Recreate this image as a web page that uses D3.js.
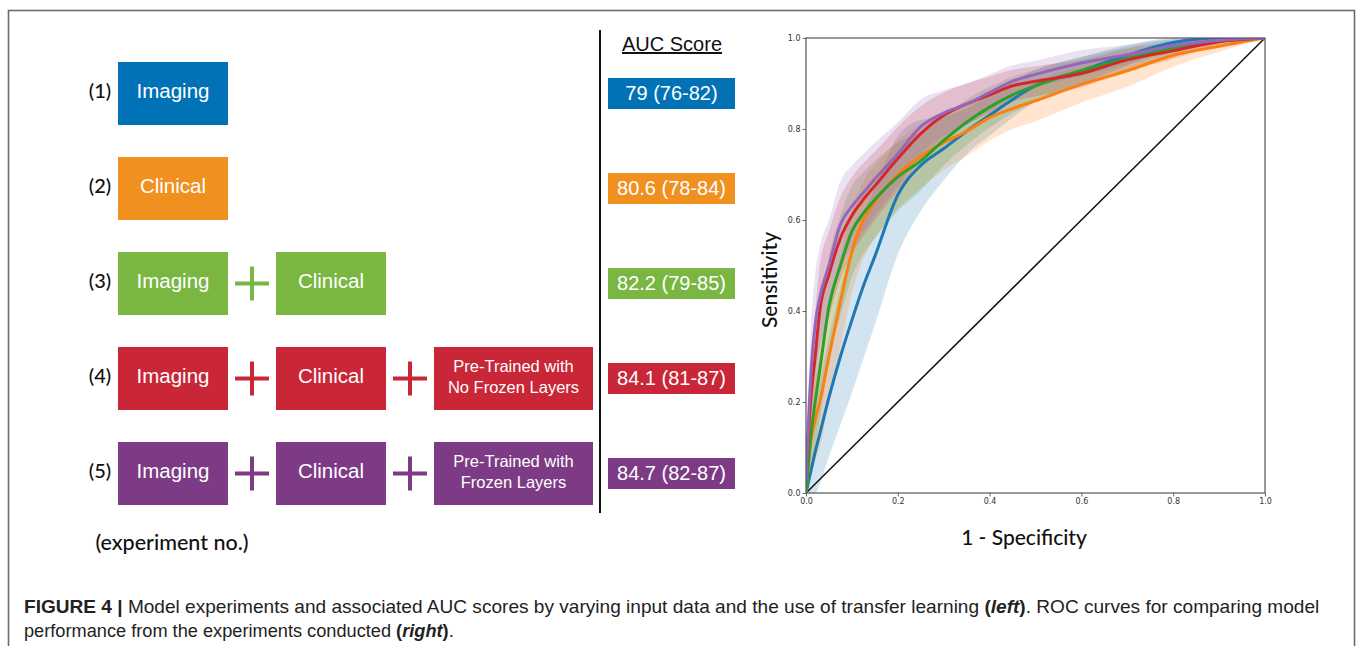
<!DOCTYPE html>
<html>
<head>
<meta charset="utf-8">
<script src="https://cdn.jsdelivr.net/npm/d3@7"></script>
<style>
  html, body { margin: 0; padding: 0; background: #fff; }
  svg { display: block; }
</style>
</head>
<body>
<svg id="fig" width="1360" height="646"></svg>
<script>
// ---- experiments (left panel) ----
const experimentLabels = ["(1)", "(2)", "(3)", "(4)", "(5)"];
const experimentInputs = [
  ["Imaging"],
  ["Clinical"],
  ["Imaging", "Clinical"],
  ["Imaging", "Clinical", "Pre-Trained with\nNo Frozen Layers"],
  ["Imaging", "Clinical", "Pre-Trained with\nFrozen Layers"]
];
const aucLabels = ["79 (76-82)", "80.6 (78-84)", "82.2 (79-85)", "84.1 (81-87)", "84.7 (82-87)"];

// ---- ROC curves (right panel): mean TPR and spread at each FPR ----
const fprGrid = [0, 0.01, 0.02, 0.03, 0.05, 0.075, 0.1, 0.125, 0.15, 0.2, 0.25, 0.3, 0.35, 0.4, 0.45, 0.5, 0.6, 0.7, 0.8, 0.9, 1.0];

const tprImaging   = [0, 0.045, 0.09, 0.13, 0.21, 0.30, 0.38, 0.455, 0.52, 0.655, 0.72, 0.757, 0.795, 0.83, 0.865, 0.895, 0.928, 0.962, 0.99, 1.0, 1.0];
const sdImaging    = [0, 0.06, 0.09, 0.11, 0.13, 0.15, 0.16, 0.16, 0.15, 0.13, 0.10, 0.07, 0.05, 0.045, 0.04, 0.035, 0.03, 0.022, 0.012, 0.005, 0];

const tprClinical  = [0, 0.11, 0.16, 0.20, 0.30, 0.42, 0.53, 0.60, 0.64, 0.70, 0.74, 0.77, 0.795, 0.825, 0.845, 0.862, 0.898, 0.928, 0.962, 0.982, 1.0];
const sdClinical   = [0, 0.07, 0.09, 0.10, 0.10, 0.10, 0.09, 0.085, 0.08, 0.075, 0.07, 0.06, 0.055, 0.05, 0.045, 0.045, 0.04, 0.035, 0.025, 0.012, 0];

const tprCombined  = [0, 0.12, 0.20, 0.27, 0.41, 0.50, 0.575, 0.615, 0.645, 0.695, 0.73, 0.775, 0.815, 0.848, 0.875, 0.895, 0.928, 0.955, 0.978, 0.993, 1.0];
const sdCombined   = [0, 0.08, 0.10, 0.11, 0.11, 0.11, 0.10, 0.09, 0.085, 0.075, 0.065, 0.055, 0.05, 0.045, 0.04, 0.035, 0.03, 0.025, 0.018, 0.008, 0];

const tprNoFrozen  = [0.04, 0.20, 0.30, 0.40, 0.48, 0.56, 0.61, 0.645, 0.675, 0.735, 0.79, 0.83, 0.855, 0.875, 0.895, 0.905, 0.922, 0.952, 0.972, 0.992, 1.0];
const sdNoFrozen   = [0.02, 0.09, 0.10, 0.10, 0.095, 0.09, 0.085, 0.08, 0.075, 0.07, 0.06, 0.05, 0.045, 0.04, 0.035, 0.033, 0.03, 0.025, 0.018, 0.008, 0];

const tprFrozen    = [0.03, 0.25, 0.37, 0.43, 0.50, 0.59, 0.63, 0.66, 0.69, 0.745, 0.805, 0.835, 0.855, 0.88, 0.905, 0.92, 0.945, 0.963, 0.983, 0.995, 1.0];
const sdFrozen     = [0.02, 0.10, 0.11, 0.11, 0.10, 0.095, 0.09, 0.085, 0.08, 0.07, 0.06, 0.05, 0.045, 0.04, 0.035, 0.03, 0.028, 0.022, 0.015, 0.006, 0];

const axisTicks = [0, 0.2, 0.4, 0.6, 0.8, 1.0];

// ---- styles ----
const boxColors  = ["#0172b6", "#f0901f", "#7ab642", "#c92638", "#7d3b85"];
const lineColors = ["#1f77b4", "#ff7f0e", "#2ca02c", "#d62728", "#9467bd"];
const series = [
  { tpr: tprImaging,  sd: sdImaging },
  { tpr: tprClinical, sd: sdClinical },
  { tpr: tprCombined, sd: sdCombined },
  { tpr: tprNoFrozen, sd: sdNoFrozen },
  { tpr: tprFrozen,   sd: sdFrozen }
];

const svg = d3.select("#fig");
const SANS = "'Liberation Sans', Arial, sans-serif";
const HUMAN = "Lato, 'Open Sans', sans-serif";

// outer frame
svg.append("rect")
  .attr("x", 8.5).attr("y", 10.5).attr("width", 1346).attr("height", 660)
  .attr("fill", "none").attr("stroke", "#6b6b6b").attr("stroke-width", 1.6);

// ---------------- left panel ----------------
const rowY = d3.scalePoint().domain(d3.range(5)).range([93.5, 473.5]);
const boxH = 63;
const slotX = [118, 276, 434];
const slotW = [110, 110, 159];
const left = svg.append("g");

experimentInputs.forEach((parts, i) => {
  const cy = rowY(i);
  const row = left.append("g");
  row.append("text")
    .attr("x", 100).attr("y", cy + 4)
    .attr("text-anchor", "middle")
    .attr("font-family", HUMAN).attr("font-size", 20).attr("font-weight", 500).attr("fill", "#111")
    .text(experimentLabels[i]);

  parts.forEach((p, j) => {
    row.append("rect")
      .attr("x", slotX[j]).attr("y", cy - boxH / 2)
      .attr("width", slotW[j]).attr("height", boxH)
      .attr("fill", boxColors[i]);
    const lines = p.split("\n");
    if (lines.length === 1) {
      row.append("text")
        .attr("x", slotX[j] + slotW[j] / 2).attr("y", cy + 4.5)
        .attr("text-anchor", "middle")
        .attr("font-family", SANS).attr("font-size", 20.5).attr("fill", "#fff")
        .text(p);
    } else {
      lines.forEach((ln, k) => {
        row.append("text")
          .attr("x", slotX[j] + slotW[j] / 2).attr("y", cy - 7 + k * 21)
          .attr("text-anchor", "middle")
          .attr("font-family", SANS).attr("font-size", 16.5).attr("fill", "#fff")
          .text(ln);
      });
    }
    if (j > 0) {
      const px = (slotX[j - 1] + slotW[j - 1] + slotX[j]) / 2;
      row.append("path")
        .attr("d", `M${px - 17},${cy} H${px + 17} M${px},${cy - 17} V${cy + 17}`)
        .attr("stroke", boxColors[i]).attr("stroke-width", 4).attr("fill", "none");
    }
  });

  // AUC score box
  row.append("rect")
    .attr("x", 608).attr("y", cy - 15.5).attr("width", 127).attr("height", 31)
    .attr("fill", boxColors[i]);
  row.append("text")
    .attr("x", 671.5).attr("y", cy + 6)
    .attr("text-anchor", "middle")
    .attr("font-family", SANS).attr("font-size", 20).attr("fill", "#fff")
    .text(aucLabels[i]);
});

left.append("text")
  .attr("x", 672).attr("y", 51)
  .attr("text-anchor", "middle")
  .attr("font-family", SANS).attr("font-size", 20).attr("fill", "#111")
  .attr("text-decoration", "underline")
  .text("AUC Score");

left.append("line")
  .attr("x1", 600).attr("x2", 600).attr("y1", 30).attr("y2", 513)
  .attr("stroke", "#111").attr("stroke-width", 2);

left.append("text")
  .attr("x", 172).attr("y", 550)
  .attr("text-anchor", "middle")
  .attr("font-family", HUMAN).attr("font-size", 21.5).attr("font-weight", 500).attr("fill", "#111")
  .text("(experiment no.)");

// ---------------- ROC panel ----------------
const x = d3.scaleLinear().domain([0, 1]).range([806, 1265]);
const y = d3.scaleLinear().domain([0, 1]).range([493, 38]);
const roc = svg.append("g");

roc.append("clipPath").attr("id", "plotClip")
  .append("rect").attr("x", 806).attr("y", 38).attr("width", 459).attr("height", 455);

const plot = roc.append("g").attr("clip-path", "url(#plotClip)");

const area = d3.area()
  .x(d => x(d.f))
  .y0(d => y(Math.max(0, d.t - d.s)))
  .y1(d => y(Math.min(1, d.t + d.s)))
  .curve(d3.curveMonotoneX);
const line = d3.line()
  .x(d => x(d.f)).y(d => y(d.t))
  .curve(d3.curveMonotoneX);

const pts = series.map(s => fprGrid.map((f, k) => ({ f, t: s.tpr[k], s: s.sd[k] })));

pts.forEach((p, i) => {
  plot.append("path").attr("d", area(p))
    .attr("fill", lineColors[i]).attr("fill-opacity", 0.2).attr("stroke", "none");
});

plot.append("line")
  .attr("x1", x(0)).attr("y1", y(0)).attr("x2", x(1)).attr("y2", y(1))
  .attr("stroke", "#111").attr("stroke-width", 1.5);

pts.forEach((p, i) => {
  plot.append("path").attr("d", line(p))
    .attr("fill", "none").attr("stroke", lineColors[i]).attr("stroke-width", 3);
});

const xAxis = d3.axisBottom(x).tickValues(axisTicks).tickFormat(d3.format(".1f")).tickSize(3.5).tickPadding(2);
const yAxis = d3.axisLeft(y).tickValues(axisTicks).tickFormat(d3.format(".1f")).tickSize(3.5).tickPadding(2);

const gx = roc.append("g").attr("transform", "translate(0,493)").call(xAxis);
const gy = roc.append("g").attr("transform", "translate(806,0)").call(yAxis);
[gx, gy].forEach(g => {
  g.select(".domain").remove();
  g.selectAll("line").attr("stroke", "#444").attr("stroke-width", 0.8);
  g.selectAll("text").attr("font-family", "'DejaVu Sans', sans-serif").attr("font-size", 8).attr("fill", "#333");
});

roc.append("rect")
  .attr("x", 806).attr("y", 38).attr("width", 459).attr("height", 455)
  .attr("fill", "none").attr("stroke", "#555").attr("stroke-width", 1.2);

roc.append("text")
  .attr("x", 1024).attr("y", 545)
  .attr("text-anchor", "middle")
  .attr("font-family", HUMAN).attr("font-size", 21).attr("font-weight", 500).attr("fill", "#111")
  .text("1 - Specificity");

roc.append("text")
  .attr("transform", "translate(777,280) rotate(-90)")
  .attr("text-anchor", "middle")
  .attr("font-family", HUMAN).attr("font-size", 21).attr("font-weight", 500).attr("fill", "#111")
  .text("Sensitivity");

// ---------------- caption ----------------
const NARROW = "'Liberation Sans Narrow', 'Liberation Sans', Arial, sans-serif";
const captionLines = [
  [["FIGURE 4 | ", "bold", "normal"],
   ["Model experiments and associated AUC scores by varying input data and the use of transfer learning ", "normal", "normal"],
   ["(", "bold", "normal"], ["left", "bold", "italic"], [")", "bold", "normal"],
   [". ROC curves for comparing model", "normal", "normal"]],
  [["performance from the experiments conducted ", "normal", "normal"],
   ["(", "bold", "normal"], ["right", "bold", "italic"], [")", "bold", "normal"],
   [".", "normal", "normal"]]
];
const captionTarget = [1296, 430];
captionLines.forEach((segs, li) => {
  const g = svg.append("g");
  const t = g.append("text")
    .attr("x", 0).attr("y", 0)
    .attr("font-family", NARROW).attr("font-size", 17.5).attr("fill", "#222");
  segs.forEach(([s, w, st]) => t.append("tspan").attr("font-weight", w).attr("font-style", st).text(s));
  const wNow = t.node().getComputedTextLength();
  const k = Math.min(1.15, captionTarget[li] / wNow);
  g.attr("transform", `translate(24,${613 + li * 24}) scale(${k},1)`);
});
</script>
</body>
</html>
